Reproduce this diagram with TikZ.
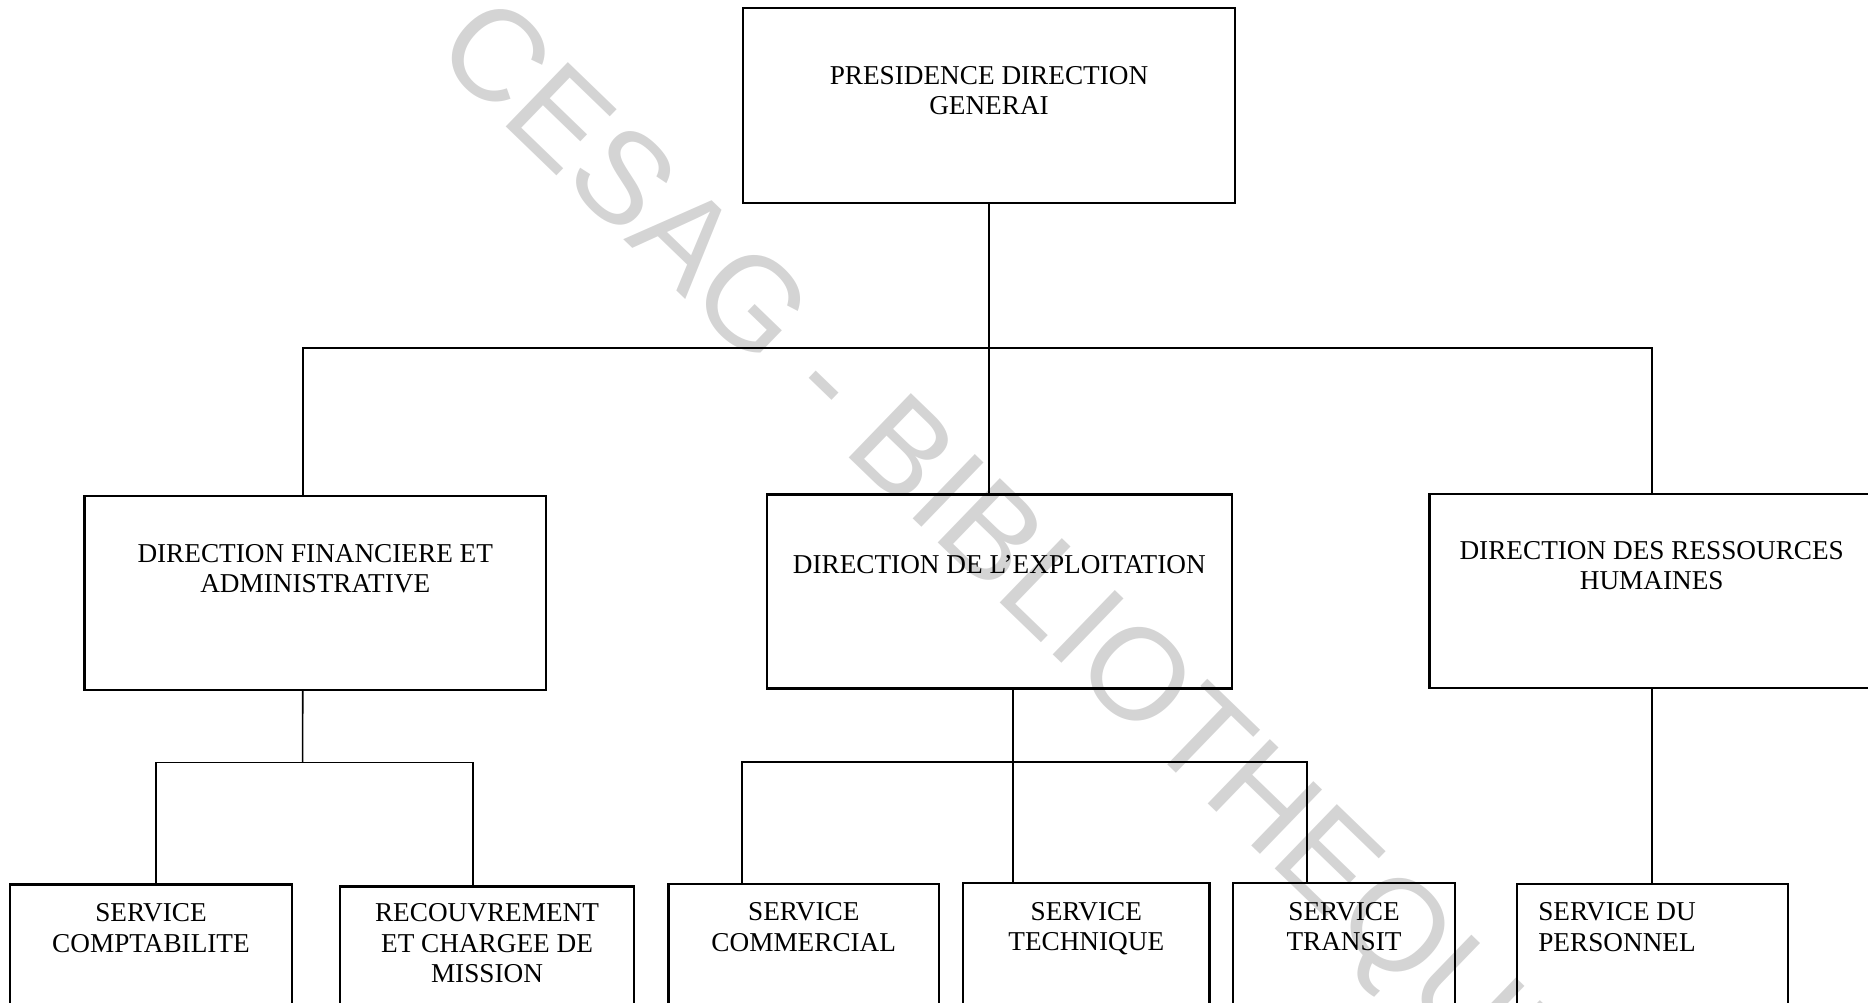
\documentclass[tikz,border=0pt]{standalone}
\usepackage{fontspec}
\setmainfont{Liberation Serif}
\newfontfamily\wmfont{Liberation Sans}
\usetikzlibrary{positioning}

\begin{document}
\begin{tikzpicture}[
        x=0.02cm, y=-0.02cm,
        direction/.style={rectangle, draw=black, line width=1.2pt, minimum height=3.88cm},
        service/.style={rectangle, draw=black, line width=1.2pt, minimum height=3.88cm},
        boxtext/.style={anchor=north, inner sep=0pt, align=center, font=\fontsize{15.5}{17.4}\selectfont},
        wmark/.style={rotate=-44, inner sep=0pt, text=black!17, font=\wmfont\fontsize{74}{74}\selectfont},
        link/.style={line width=0.9pt},
    ]
    \useasboundingbox (0,0) rectangle (1868,1003);
    \clip (0,0) rectangle (1868,1003);

    % watermark
    \node[wmark] (wm) at (1005,562) {CESAG - BIBLIOTHEQUE};

    \node[direction, minimum width=9.84cm, minimum height=3.90cm,
          label={[boxtext, yshift=-1.18cm]north:PRESIDENCE DIRECTION\\GENERAI}] (pdg) at (989,105.5) {};

    \node[direction, minimum width=9.23cm,
          label={[boxtext, yshift=-0.98cm]north:DIRECTION FINANCIERE ET\\ADMINISTRATIVE}] (dirfin) at (315.25,593) {};
    \node[direction, minimum width=9.31cm,
          label={[boxtext, yshift=-1.24cm]north:DIRECTION DE L’EXPLOITATION}] (direxp) at (999.25,591.5) {};
    \node[direction, minimum width=8.89cm,
          label={[boxtext, yshift=-0.96cm]north:DIRECTION DES RESSOURCES\\HUMAINES}] (dirrh) at (1651.7,591) {};

    \node[service, minimum width=5.64cm,
          label={[boxtext, yshift=-0.40cm]north:SERVICE\\COMPTABILITE}] (compta) at (151,981.5) {};
    \node[service, minimum width=5.88cm,
          label={[boxtext, yshift=-0.36cm]north:RECOUVREMENT\\ET CHARGEE DE\\MISSION}] (recouv) at (487,983.5) {};
    \node[service, minimum width=5.41cm,
          label={[boxtext, yshift=-0.39cm]north:SERVICE\\COMMERCIAL}] (commercial) at (803.75,981) {};
    \node[service, minimum width=4.93cm,
          label={[boxtext, yshift=-0.40cm]north:SERVICE\\TECHNIQUE}] (technique) at (1086.25,980) {};
    \node[service, minimum width=4.44cm,
          label={[boxtext, yshift=-0.40cm]north:SERVICE\\TRANSIT}] (transit) at (1344,980) {};
    \node[service, minimum width=5.42cm,
          label={[boxtext, anchor=north west, align=left, xshift=0.44cm, yshift=-0.39cm]north west:SERVICE DU\\PERSONNEL}] (personnel) at (1652.5,981) {};

    % links
    \coordinate (bus) at (989,348);
    \coordinate (busfin) at (302.6,762.5);
    \coordinate (busexp) at (1012.6,762);

    \draw[link] (pdg.south) -- (pdg.south |- direxp.north);
    \draw[link] ([xshift=-0.25cm]dirfin.north) |- (bus) -| (dirrh.north);

    \draw[link] ([xshift=-0.25cm]dirfin.south) -- (busfin);
    \draw[link] ([xshift=0.1cm]compta.north) |- (busfin) -| ([xshift=-0.28cm]recouv.north);

    \draw[link] ([xshift=0.27cm]direxp.south) -- ([xshift=0.27cm]direxp.south |- technique.north);
    \draw[link] ([xshift=-1.23cm]commercial.north) |- (busexp) -| ([xshift=-0.74cm]transit.north);

    \draw[link] (dirrh.south) -- (dirrh.south |- personnel.north);
\end{tikzpicture}
\end{document}
